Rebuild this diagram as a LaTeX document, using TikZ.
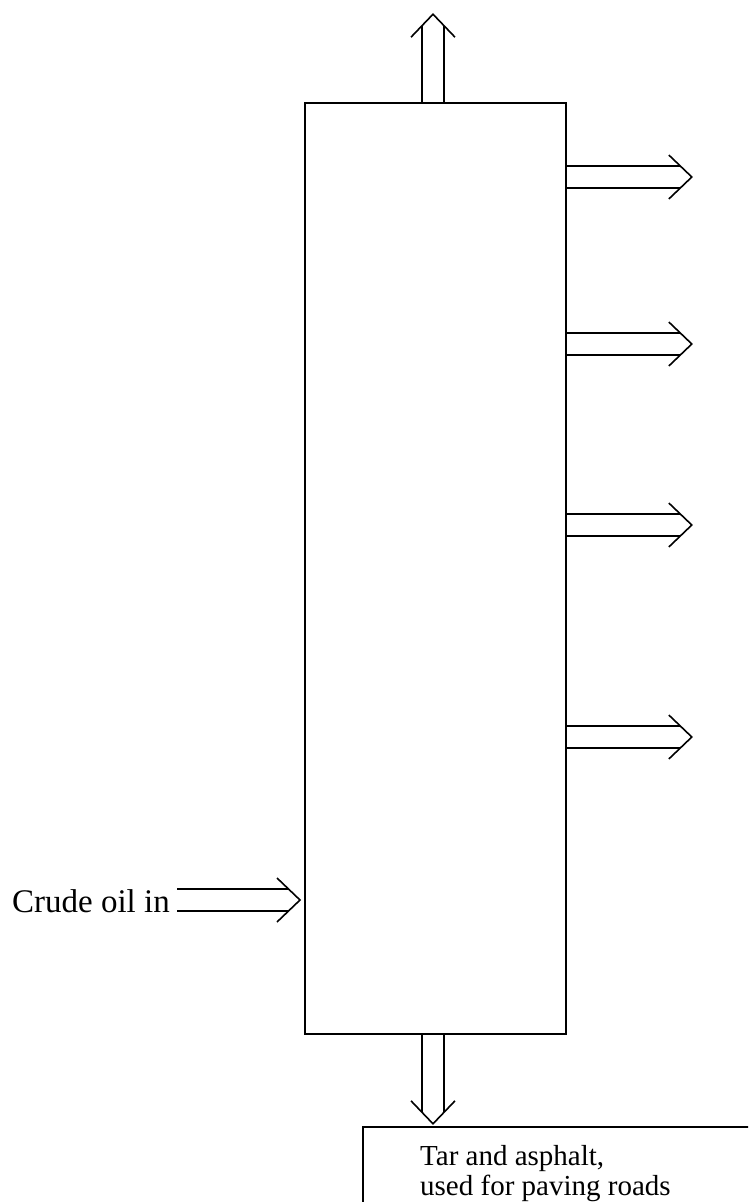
\documentclass[tikz,border=0pt]{standalone}
\usepackage{fontspec}
\setmainfont{Liberation Serif}
\begin{document}
\begin{tikzpicture}[x=1pt,y=-1pt,line join=miter]
\tikzset{
  flow/.style={line width=1.6pt},
  box/.style={draw,line width=1.6pt,inner sep=0pt},
  lbl/.style={inner sep=0pt,font=\fontsize{33}{36}\selectfont},
  dblarrow/.pic={
    \draw[flow] (0,-11) -- (\arrlen-12,-11);
    \draw[flow] (0,11) -- (\arrlen-12,11);
    \draw[flow] (\arrlen-23,-22) -- (\arrlen,0) -- (\arrlen-23,22);
  }
}
\useasboundingbox (0,0) rectangle (748,1202);
\clip (0,0) rectangle (748,1202);
% column
\node[box,minimum width=261pt,minimum height=931pt] (column) at (435.5,568.5) {};
% side draw-offs
\coordinate (r1) at (691,177);
\coordinate (r2) at (691,344);
\coordinate (r3) at (691,525);
\coordinate (r4) at (691,737);
\def\arrlen{125}
\foreach \r in {r1,r2,r3,r4}{
  \pic at (column.east |- \r) {dblarrow};
}
% top outlet
\coordinate (top) at (433,15);
\def\arrlen{88}
\pic[rotate=90] at (top |- column.north) {dblarrow};
% bottom outlet
\coordinate (bot) at (433,1124);
\def\arrlen{89}
\pic[rotate=-90] at (top |- column.south) {dblarrow};
% crude oil in
\node[lbl,anchor=base east] (crude) at (170,912) {Crude oil in};
\def\arrlen{123}
\pic at ([xshift=7pt]crude.east |- 0,900) {dblarrow};
% residue box
\draw[flow] (363,1127) rectangle (780,1240);
\node[lbl,anchor=north west,align=left,font=\fontsize{29}{30}\selectfont] (tar) at (420,1145) {Tar and asphalt,\\used for paving roads};
\end{tikzpicture}
\end{document}
